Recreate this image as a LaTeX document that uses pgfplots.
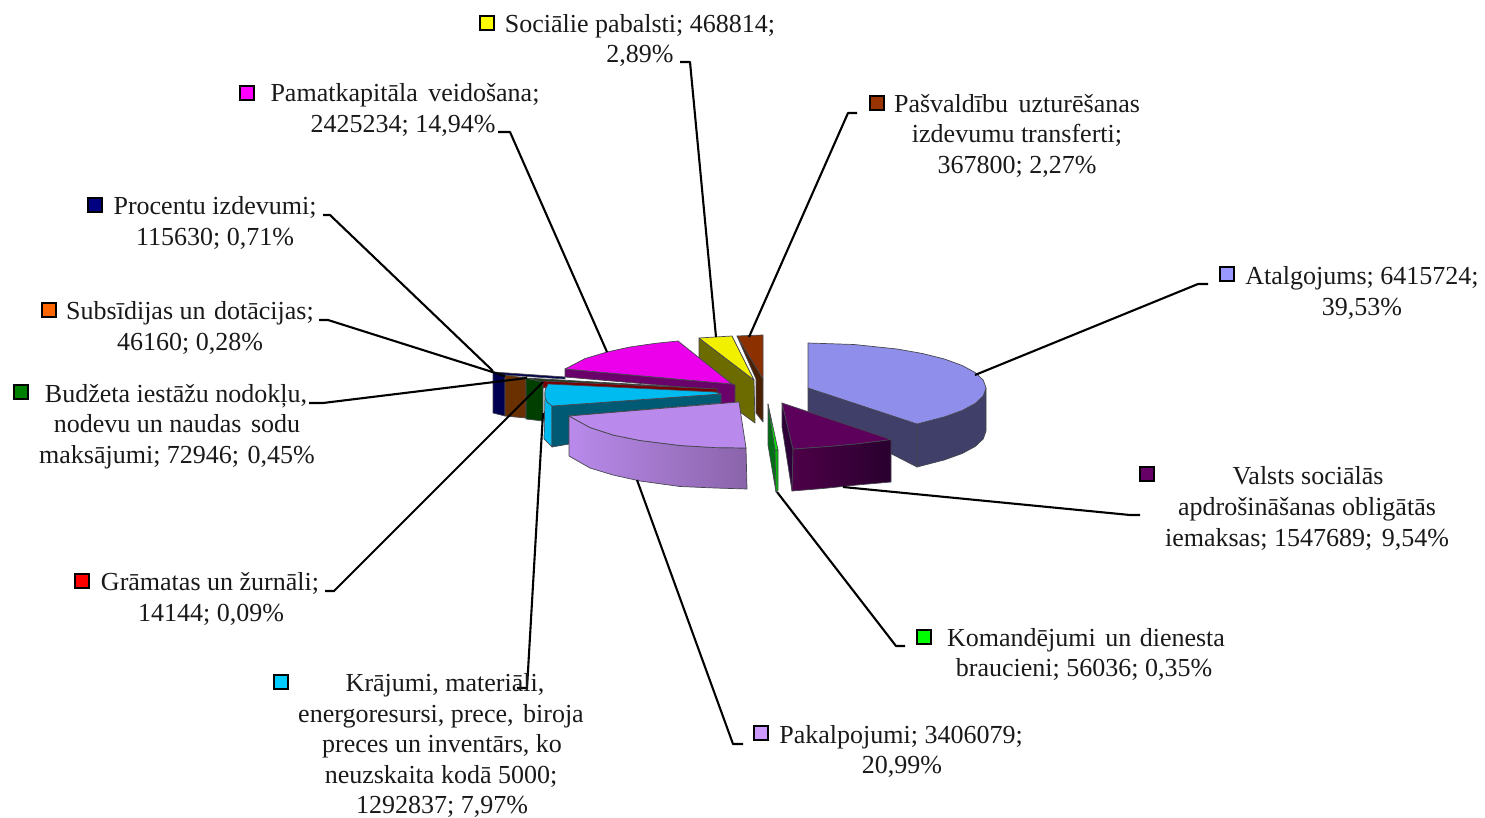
\documentclass[border=0pt]{standalone}
\usepackage{fontspec}
\setmainfont{Liberation Serif}
\usepackage{pgfplots}
\pgfplotsset{compat=1.18}
\definecolor{edge}{RGB}{70,70,80}
\definecolor{atal}{RGB}{143,143,235}
\definecolor{atalside}{RGB}{63,63,105}
\definecolor{valsts}{RGB}{92,0,92}
\definecolor{valstsl}{RGB}{78,0,72}
\definecolor{valstsr}{RGB}{40,0,46}
\definecolor{valstsd}{RGB}{45,0,55}
\definecolor{komand}{RGB}{0,230,0}
\definecolor{komandd}{RGB}{0,110,20}
\definecolor{komandm}{RGB}{0,190,0}
\definecolor{pakal}{RGB}{185,138,235}
\definecolor{pakald}{RGB}{138,100,170}
\definecolor{kraj}{RGB}{0,187,240}
\definecolor{krajside}{RGB}{0,90,115}
\definecolor{pamat}{RGB}{236,0,236}
\definecolor{pamatside}{RGB}{106,0,106}
\definecolor{soc}{RGB}{240,240,0}
\definecolor{socside}{RGB}{107,107,0}
\definecolor{pasv}{RGB}{140,48,0}
\definecolor{pasvside}{RGB}{74,32,0}
\definecolor{navyside}{RGB}{0,0,80}
\definecolor{brownside}{RGB}{107,48,0}
\definecolor{greenside}{RGB}{0,63,0}
\definecolor{greentop}{RGB}{30,60,20}
\definecolor{redside}{RGB}{122,0,0}
\definecolor{keysoc}{RGB}{255,255,0}
\definecolor{keypamat}{RGB}{255,0,255}
\definecolor{keypasv}{RGB}{153,51,0}
\definecolor{keyproc}{RGB}{0,0,128}
\definecolor{keysubs}{RGB}{255,102,0}
\definecolor{keybudz}{RGB}{0,128,0}
\definecolor{keygram}{RGB}{255,0,0}
\definecolor{keykraj}{RGB}{0,204,255}
\definecolor{keypakal}{RGB}{204,153,255}
\definecolor{keykom}{RGB}{0,255,0}
\definecolor{keyvalsts}{RGB}{102,0,102}
\definecolor{keyatal}{RGB}{153,153,255}
\tikzset{
  face/.style={draw=edge, line width=0.7pt, line join=round, fill=#1, mark=none},
  lead/.style={black, line width=2.1pt, mark=none, line join=round},
  key/.style={only marks, mark=square*, mark size=7pt,
    mark options={fill=#1, draw=black, line width=2pt}},
}
\newcommand{\lbl}[3]{\node[anchor=base, inner sep=0pt, text=black!90] at (axis cs:#1,#2) {#3};}
\begin{document}
\begin{tikzpicture}
\useasboundingbox (0,0) rectangle (1485pt,818pt);
\begin{axis}[
    at={(0,0)}, anchor=south west,
    width=1485pt, height=818pt, scale only axis,
    xmin=0, xmax=1485, ymin=0, ymax=818, y dir=reverse,
    hide axis, clip=false,
    font=\fontsize{26}{30}\selectfont,
]
% left blocks
\addplot[face=navyside] coordinates {(493,372) (505,375) (505,416) (493,413)} -- cycle;
\addplot[face=brownside] coordinates {(505,375) (526,378) (526,418) (505,416)} -- cycle;
\addplot[face=greenside] coordinates {(526,378) (543,382) (543,421) (526,419)} -- cycle;
% Pasvaldibu, Sociale
\addplot[face=pasvside] coordinates {(737,336) (763,379) (763,422) (756,413) (756,379)} -- cycle;
\addplot[face=pasv] coordinates {(737,336) (763,335) (763,379)} -- cycle;
\addplot[face=socside] coordinates {(699,338) (754,380) (755,423) (699,382)} -- cycle;
\addplot[face=soc] coordinates {(699,338) (732,336) (754,380)} -- cycle;
% Pamatkapitala
\addplot[face=pamatside] coordinates {(565,369) (732,384) (735,385) (735,404) (721,404) (717,390) (565,377)} -- cycle;
\addplot[face=pamat] coordinates {(565,369) (585,358.6) (607,352) (630,347) (655,343.4) (678,341) (732,384)} -- cycle;
% thin slivers
\addplot[face=navyside] coordinates {(493,372) (565,377) (565,379) (505,375)} -- cycle;
\addplot[face=greentop] coordinates {(526,378) (717,389) (543,382)} -- cycle;
\addplot[face=redside] coordinates {(543,381) (717,389) (717,393) (560,386) (543,388)} -- cycle;
% Atalgojums
\addplot[face=atalside] coordinates {(808,388) (917,424) (917,467) (808,411)} -- cycle;
\addplot[face=atalside] coordinates {(917,424) (944.4,416.9) (962.2,410.5) (975.3,403.4) (983.3,395.8) (986,388) (986,431) (983.3,438.8) (975.3,446.4) (962.2,453.5) (944.4,459.9) (917,467)} -- cycle;
\addplot[face=atal] coordinates {(808,343) (854,344.5) (897,349) (922.4,353.5) (944.4,359) (962.2,365.5) (975.3,372.6) (983.3,380.2) (986,388) (983.3,395.8) (975.3,403.4) (962.2,410.5) (944.4,416.9) (917,424) (808,388)} -- cycle;
% Valsts
\addplot[face=valstsd] coordinates {(782,403) (793,449) (792,491) (782,427)} -- cycle;
\addplot[draw=edge, line width=0.7pt, line join=round, mark=none, left color=valstsl, right color=valstsr] coordinates {(793,449) (823,446.8) (857,443.8) (891,439.5) (891,482) (857,485) (823,488.5) (792,491)} -- cycle;
\addplot[face=valsts] coordinates {(782,403) (891,439.5) (857,443.8) (823,446.8) (793,449)} -- cycle;
% Komandejumi
\addplot[face=komandd] coordinates {(768,404) (775,450) (776,492) (768,445)} -- cycle;
\addplot[face=komandm] coordinates {(775,450) (778,450) (778,490) (776,492)} -- cycle;
\addplot[face=komand] coordinates {(768,404) (778,450) (775,450)} -- cycle;
% Krajumi
\addplot[face=kraj] coordinates {(545,392) (552,406) (552,447) (544,439)} -- cycle;
\addplot[face=krajside] coordinates {(552,406) (721,394) (721,403) (569,416) (569,444) (552,447)} -- cycle;
\addplot[face=kraj] coordinates {(548,384) (715,392) (721,394) (552,406) (547,402) (545,397) (545,390)} -- cycle;
% Pakalpojumi
\addplot[draw=edge, line width=0.7pt, line join=round, mark=none, left color=pakal, middle color=pakal, right color=pakald] coordinates {(569,416) (569,456) (590,468) (613,475) (640,481) (680,486.5) (715,488) (747,489) (746,448) (715,447.6) (680,445.5) (640,440.5) (613,435) (590,427.5)} -- cycle;
\addplot[face=pakal] coordinates {(569,416) (590,427.5) (613,435) (640,440.5) (680,445.5) (715,447.6) (746,448) (739,402)} -- cycle;
% leader lines
\addplot[lead] coordinates {(680,62) (690,62) (716,337)};
\addplot[lead] coordinates {(498,132) (510,132) (607,352)};
\addplot[lead] coordinates {(857,113) (848,113) (749,337)};
\addplot[lead] coordinates {(1208,284) (1198,284) (975,375)};
\addplot[lead] coordinates {(1140,515) (1130,515) (843,487)};
\addplot[lead] coordinates {(905,646) (896,646) (777,492)};
\addplot[lead] coordinates {(743,744) (733,744) (637,480)};
\addplot[lead] coordinates {(517,688) (527,688) (543,413)};
\addplot[lead] coordinates {(325,591) (334,591) (543,382)};
\addplot[lead] coordinates {(309,403) (323,403) (527,378)};
\addplot[lead] coordinates {(319,320) (328,320) (505,376)};
\addplot[lead] coordinates {(323,215) (330,215) (493,371)};
% legend keys
\addplot[key=keysoc] coordinates {(487,23)};
\addplot[key=keypamat] coordinates {(247,93)};
\addplot[key=keypasv] coordinates {(877,103)};
\addplot[key=keyproc] coordinates {(95,205)};
\addplot[key=keysubs] coordinates {(49,310)};
\addplot[key=keybudz] coordinates {(21,392)};
\addplot[key=keygram] coordinates {(82,581)};
\addplot[key=keykraj] coordinates {(281,682)};
\addplot[key=keypakal] coordinates {(761,733)};
\addplot[key=keykom] coordinates {(924,637)};
\addplot[key=keyvalsts] coordinates {(1147,474)};
\addplot[key=keyatal] coordinates {(1227,274)};
% labels
\lbl{640}{33}{Sociālie pabalsti; 468814;}
\lbl{640}{63}{2,89\%}
\lbl{405}{102}{Pamatkapitāla\hspace{4pt} veidošana;}
\lbl{403}{133}{2425234; 14,94\%}
\lbl{1017}{113}{Pašvaldību\hspace{4pt} uzturēšanas}
\lbl{1017}{143}{izdevumu transferti;}
\lbl{1017}{174}{367800; 2,27\%}
\lbl{215}{215}{Procentu izdevumi;}
\lbl{215}{246}{115630; 0,71\%}
\lbl{190}{319}{Subsīdijas un\hspace{2pt} dotācijas;}
\lbl{190}{350}{46160; 0,28\%}
\lbl{176}{402}{Budžeta iestāžu nodokļu,}
\lbl{177}{432}{nodevu un naudas\hspace{3pt} sodu}
\lbl{177}{463}{maksājumi; 72946;\hspace{2pt} 0,45\%}
\lbl{210}{590}{Grāmatas un žurnāli;}
\lbl{211}{621}{14144; 0,09\%}
\lbl{445}{691}{Krājumi, materiāli,}
\lbl{441}{722}{energoresursi, prece,\hspace{3pt} biroja}
\lbl{442}{752}{preces un inventārs, ko}
\lbl{441}{783}{neuzskaita kodā 5000;}
\lbl{442}{813}{1292837; 7,97\%}
\lbl{901}{743}{Pakalpojumi; 3406079;}
\lbl{902}{773}{20,99\%}
\lbl{1086}{646}{Komandējumi\hspace{3pt} un\hspace{2pt} dienesta}
\lbl{1084}{676}{braucieni; 56036; 0,35\%}
\lbl{1308}{484}{Valsts sociālās}
\lbl{1307}{515}{apdrošināšanas obligātās}
\lbl{1307}{546}{iemaksas; 1547689;\hspace{3pt} 9,54\%}
\lbl{1362}{284}{Atalgojums; 6415724;}
\lbl{1362}{315}{39,53\%}
\end{axis}
\end{tikzpicture}
\end{document}
